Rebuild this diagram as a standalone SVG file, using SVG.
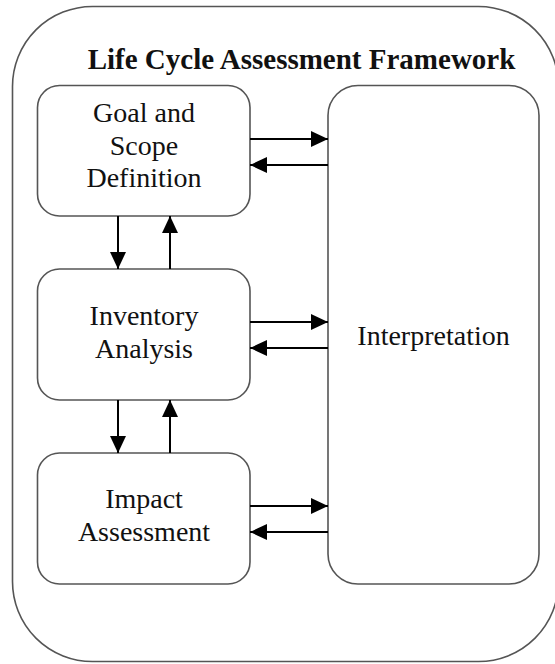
<svg xmlns="http://www.w3.org/2000/svg" width="555" height="664" viewBox="0 0 555 664">
<defs>
<marker id="ah" markerUnits="userSpaceOnUse" markerWidth="18" markerHeight="16" viewBox="0 0 18 16" refX="17" refY="8" orient="auto">
<path d="M0,0 L17,8 L0,16 Z" fill="#000"/>
</marker>
<style>
.box{fill:#fff;stroke:#555;stroke-width:1.6}
.lbl{font-family:"Liberation Serif","Times New Roman",serif;font-size:28px;fill:#111;text-anchor:middle}
.ttl{font-family:"Liberation Serif","Times New Roman",serif;font-size:29px;font-weight:bold;fill:#111;text-anchor:middle}
.con{stroke:#000;stroke-width:2;fill:none;marker-end:url(#ah)}
</style>
</defs>
<rect width="555" height="664" fill="#fff"/>
<g id="frame">
<rect class="box" x="12.5" y="6.5" width="546" height="655" rx="80" ry="80"/>
<text class="ttl" x="301.5" y="69">Life Cycle Assessment Framework</text>
</g>
<g id="goal">
<rect class="box" x="37.5" y="85.5" width="212.5" height="130.5" rx="22" ry="22"/>
<text class="lbl" x="144" y="122">Goal and</text>
<text class="lbl" x="144" y="155">Scope</text>
<text class="lbl" x="144" y="187">Definition</text>
</g>
<g id="inventory">
<rect class="box" x="37.5" y="269" width="212.5" height="131" rx="22" ry="22"/>
<text class="lbl" x="144" y="325">Inventory</text>
<text class="lbl" x="144" y="358">Analysis</text>
</g>
<g id="impact">
<rect class="box" x="37.5" y="453" width="212.5" height="131" rx="22" ry="22"/>
<text class="lbl" x="144" y="508">Impact</text>
<text class="lbl" x="144" y="541">Assessment</text>
</g>
<g id="interpretation">
<rect class="box" x="328" y="85.5" width="211" height="498.5" rx="30" ry="30"/>
<text class="lbl" x="433.5" y="345">Interpretation</text>
</g>
<g id="connectors">
<line class="con" x1="250" y1="139" x2="328" y2="139"/>
<line class="con" x1="328" y1="165" x2="250" y2="165"/>
<line class="con" x1="250" y1="322" x2="328" y2="322"/>
<line class="con" x1="328" y1="348" x2="250" y2="348"/>
<line class="con" x1="250" y1="506" x2="328" y2="506"/>
<line class="con" x1="328" y1="532" x2="250" y2="532"/>
<line class="con" x1="118" y1="216" x2="118" y2="269"/>
<line class="con" x1="170" y1="269" x2="170" y2="216"/>
<line class="con" x1="118" y1="400" x2="118" y2="453"/>
<line class="con" x1="170" y1="453" x2="170" y2="400"/>
</g>
</svg>
